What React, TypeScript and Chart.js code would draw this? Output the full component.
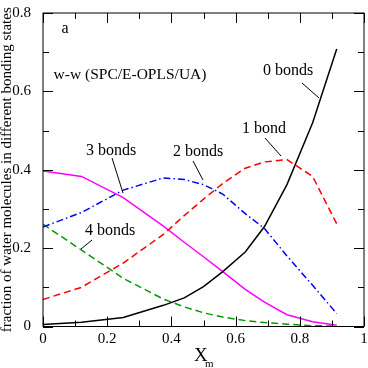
import React, { useEffect, useRef } from "react";
import { Chart, registerables } from "chart.js";

Chart.register(...registerables);

const xm = [0, 0.12, 0.25, 0.375, 0.44, 0.5, 0.56, 0.63, 0.69, 0.76, 0.84, 0.915];
const bonds0 = [0.005, 0.011, 0.023, 0.054, 0.073, 0.102, 0.14, 0.19, 0.255, 0.362, 0.52, 0.708];
const bonds1 = [0.069, 0.1, 0.162, 0.235, 0.283, 0.325, 0.365, 0.404, 0.42, 0.426, 0.383, 0.262];
const bonds2 = [0.254, 0.291, 0.348, 0.379, 0.375, 0.362, 0.338, 0.288, 0.25, 0.18, 0.105, 0.033];
const bonds3 = [0.397, 0.383, 0.329, 0.256, 0.215, 0.178, 0.14, 0.095, 0.062, 0.03, 0.012, 0.003];
const bonds4 = [0.261, 0.195, 0.123, 0.07, 0.05, 0.035, 0.024, 0.015, 0.01, 0.006, 0.002, 0.001];

const seriesNames = ["0 bonds", "1 bond", "2 bonds", "3 bonds", "4 bonds"];
const seriesColors = ["#000000", "#ff0000", "#0000ff", "#ff00ff", "#009a00"];
const seriesDashes: number[][] = [[], [7, 4], [7, 3, 1.5, 3], [], [7, 4]];
const xTicks = [0, 0.2, 0.4, 0.6, 0.8, 1];
const yTicks = [0, 0.2, 0.4, 0.6, 0.8];
const panelLabel = "a";
const modelLabel = "w-w (SPC/E-OPLS/UA)";
const yTitle = "fraction of water molecules in different bonding states";

const SERIF = "'Liberation Serif', 'Times New Roman', serif";

// curve labels: text, centre, leader-line start & end (pixels)
const curveLabels = [
  { t: "0 bonds", x: 288, y: 71, l: [302, 83, 319, 98] },
  { t: "1 bond", x: 264, y: 129, l: [265, 138, 281, 156] },
  { t: "2 bonds", x: 198, y: 152, l: [193, 161, 203, 180] },
  { t: "3 bonds", x: 111, y: 151, l: [112, 158, 123, 193] },
  { t: "4 bonds", x: 110, y: 231, l: [92, 240, 81, 249] },
];

const decor = {
  id: "decor",
  afterDatasetsDraw(chart: any) {
    const ctx = chart.ctx;
    const a = chart.chartArea;
    const xs = chart.scales.x;
    const ys = chart.scales.y;
    ctx.save();
    ctx.strokeStyle = "#000";
    ctx.lineWidth = 1;
    // frame
    ctx.strokeRect(a.left, a.top, a.right - a.left, a.bottom - a.top);
    // x ticks (bottom & top, inward)
    for (let i = 0; i <= 10; i++) {
      const v = i / 10;
      const px = Math.round(xs.getPixelForValue(v)) + 0.5;
      const len = i % 2 === 0 ? 10 : 6;
      ctx.beginPath();
      ctx.moveTo(px, a.bottom);
      ctx.lineTo(px, a.bottom - len);
      ctx.moveTo(px, a.top);
      ctx.lineTo(px, a.top + len);
      ctx.stroke();
    }
    for (let i = 0; i <= 8; i++) {
      const v = i / 10;
      const py = Math.round(ys.getPixelForValue(v)) + 0.5;
      const len = i % 2 === 0 ? 10 : 6;
      ctx.beginPath();
      ctx.moveTo(a.left, py);
      ctx.lineTo(a.left + len, py);
      ctx.moveTo(a.right, py);
      ctx.lineTo(a.right - len, py);
      ctx.stroke();
    }
    // annotations
    ctx.fillStyle = "#000";
    ctx.textAlign = "center";
    ctx.textBaseline = "middle";
    ctx.font = `16px ${SERIF}`;
    ctx.fillText(panelLabel, 65, 29);
    ctx.font = `15.5px ${SERIF}`;
    ctx.fillText(modelLabel, 130, 75);
    ctx.font = `16px ${SERIF}`;
    for (const c of curveLabels) {
      ctx.fillText(c.t, c.x, c.y);
      ctx.beginPath();
      ctx.moveTo(c.l[0], c.l[1]);
      ctx.lineTo(c.l[2], c.l[3]);
      ctx.stroke();
    }
    // x title X_m
    ctx.textAlign = "left";
    ctx.textBaseline = "alphabetic";
    ctx.font = `19px ${SERIF}`;
    ctx.fillText("X", 194, 361);
    ctx.font = `11px ${SERIF}`;
    ctx.fillText("m", 205, 367);
    // y title
    ctx.translate(7.5, (a.top + a.bottom) / 2);
    ctx.rotate(-Math.PI / 2);
    ctx.textAlign = "center";
    ctx.textBaseline = "middle";
    ctx.font = `15px ${SERIF}`;
    ctx.fillText(yTitle, 0, 0);
    ctx.restore();
  },
};

export default function App() {
  const ref = useRef<HTMLCanvasElement | null>(null);
  useEffect(() => {
    document.body.style.margin = "0";
    const datasets = [bonds0, bonds1, bonds2, bonds3, bonds4].map((ys, i) => ({
      label: seriesNames[i],
      data: xm.map((x, j) => ({ x, y: ys[j] })),
      borderColor: seriesColors[i],
      backgroundColor: seriesColors[i],
      borderDash: seriesDashes[i],
      borderWidth: 1.5,
      pointRadius: 0,
      tension: 0,
      fill: false,
    }));
    const chart = new Chart(ref.current as HTMLCanvasElement, {
      type: "line",
      data: { datasets },
      options: {
        animation: false,
        responsive: false,
        devicePixelRatio: 1,
        layout: { padding: { top: 6, right: 4, left: 0, bottom: 0 }, autoPadding: false },
        plugins: { legend: { display: false }, tooltip: { enabled: false } },
        scales: {
          x: {
            type: "linear",
            min: 0,
            max: 1,
            afterFit: (s: any) => { s.height = 41.5; },
            afterBuildTicks: (s: any) => { s.ticks = xTicks.map((v) => ({ value: v })); },
            grid: { display: false },
            border: { display: false },
            ticks: {
              color: "#000",
              padding: -4,
              font: { family: SERIF, size: 15 },
              callback: (v: any) => String(v),
            },
          },
          y: {
            type: "linear",
            min: 0,
            max: 0.8,
            afterFit: (s: any) => { s.width = 43; },
            afterBuildTicks: (s: any) => { s.ticks = yTicks.map((v) => ({ value: v })); },
            grid: { display: false },
            border: { display: false },
            ticks: {
              color: "#000",
              padding: 4,
              font: { family: SERIF, size: 15 },
              callback: (v: any) => String(v),
            },
          },
        },
      },
      plugins: [decor],
    });
    return () => chart.destroy();
  }, []);
  return (
    <div style={{ width: 368, height: 368 }}>
      <canvas ref={ref} width={368} height={368} />
    </div>
  );
}
